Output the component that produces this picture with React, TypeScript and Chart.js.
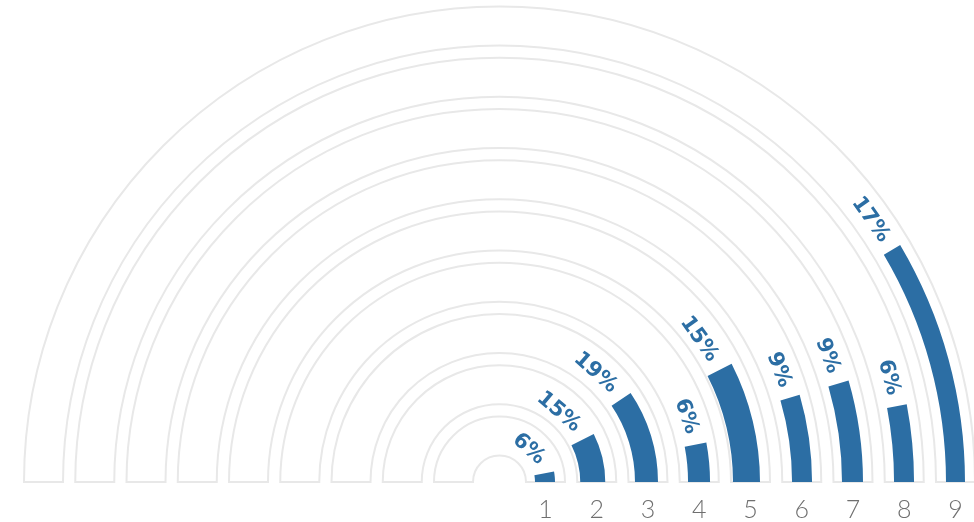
import React, { useEffect, useRef } from "react";
import { Chart, registerables } from "chart.js";

Chart.register(...registerables);

// ---------- data ----------
const categories = ["1", "2", "3", "4", "5", "6", "7", "8", "9"];
const values = [6, 15, 19, 6, 15, 9, 9, 6, 17];
const valueMax = 100;

// ---------- geometry / style (px) ----------
const HOLE = 26.5; // radius of the empty centre
const TRACK_W = 39; // radial width of each grey track
const TRACK_PITCH = 51.25; // distance between track starts
const barInset = [9, 3, 6.5, 8.3, 2, 9.8, 8.5, 9.3, 10];
const barWidth = [20, 25, 23, 22, 27, 20, 21, 20, 19];
const BLUE = "#2c6ea4";
const TRACK_LINE = "#e8e8e8";
const DIGIT_COLOR = "#6f6f6f";
const LABEL_GAP = 12;

const trackInner = (i: number) => HOLE + TRACK_PITCH * i;
const OUTER = trackInner(categories.length - 1) + TRACK_W;

const commonOptions: any = {
  responsive: false,
  animation: false,
  events: [],
  rotation: -90,
  circumference: 180,
  cutout: 0,
  radius: OUTER,
  layout: { padding: { left: 25, right: 0, top: 0, bottom: 33.5 } },
  plugins: { legend: { display: false }, tooltip: { enabled: false } },
};

function buildTrackDatasets() {
  const ds: any[] = [];
  const trackIdx: number[] = [];
  const n = categories.length;
  for (let i = n - 1; i >= 0; i--) {
    if (i < n - 1) {
      const gap = trackInner(i + 1) - (trackInner(i) + TRACK_W);
      ds.push({ data: [1], weight: gap, backgroundColor: "rgba(0,0,0,0)", borderWidth: 0, clip: false });
    }
    trackIdx[i] = ds.length;
    ds.push({
      label: categories[i],
      data: [1],
      weight: TRACK_W,
      backgroundColor: "#ffffff",
      borderColor: TRACK_LINE,
      borderWidth: 2,
      borderJoinStyle: "miter",
      clip: false,
    });
  }
  ds.push({ data: [1], weight: HOLE, backgroundColor: "rgba(0,0,0,0)", borderWidth: 0, clip: false });
  return { ds, trackIdx };
}

function buildBarDatasets() {
  const ds: any[] = [];
  const barIdx: number[] = [];
  const n = categories.length;
  let prev = OUTER;
  for (let i = n - 1; i >= 0; i--) {
    const bo = trackInner(i) + barInset[i] + barWidth[i];
    ds.push({ data: [1], weight: prev - bo, backgroundColor: "rgba(0,0,0,0)", borderWidth: 0, clip: false });
    barIdx[i] = ds.length;
    ds.push({
      label: categories[i],
      data: [valueMax - values[i], values[i]],
      weight: barWidth[i],
      backgroundColor: ["rgba(0,0,0,0)", BLUE],
      borderWidth: 0,
      clip: false,
    });
    prev = bo - barWidth[i];
  }
  ds.push({ data: [1], weight: prev, backgroundColor: "rgba(0,0,0,0)", borderWidth: 0, clip: false });
  return { ds, barIdx };
}

export default function App() {
  const trackRef = useRef<HTMLCanvasElement | null>(null);
  const barRef = useRef<HTMLCanvasElement | null>(null);

  useEffect(() => {
    const { ds: trackDs, trackIdx } = buildTrackDatasets();
    const { ds: barDs, barIdx } = buildBarDatasets();

    const digitPlugin = {
      id: "digits",
      afterDatasetsDraw(chart: any) {
        const ctx = chart.ctx;
        ctx.save();
        ctx.fillStyle = DIGIT_COLOR;
        ctx.font = "300 25px Lato, 'Open Sans', sans-serif";
        ctx.textAlign = "center";
        ctx.textBaseline = "alphabetic";
        categories.forEach((c, i) => {
          const arc: any = chart.getDatasetMeta(trackIdx[i]).data[0];
          const rx = arc.x + (arc.innerRadius + arc.outerRadius) / 2;
          ctx.fillText(c, rx, arc.y + 36);
        });
        ctx.restore();
      },
    };

    const labelPlugin = {
      id: "pctLabels",
      afterDatasetsDraw(chart: any) {
        const ctx = chart.ctx;
        ctx.save();
        ctx.fillStyle = BLUE;
        ctx.font = "bold 21px 'DejaVu Sans', sans-serif";
        ctx.textAlign = "center";
        ctx.textBaseline = "middle";
        values.forEach((v, i) => {
          const arc: any = chart.getDatasetMeta(barIdx[i]).data[1];
          const r = (arc.innerRadius + arc.outerRadius) / 2 - 1.5;
          const text = v + "%";
          const h = ctx.measureText(text).width / 2;
          const a = arc.startAngle - LABEL_GAP / r - Math.atan(h / r);
          ctx.save();
          ctx.translate(arc.x + r * Math.cos(a), arc.y + r * Math.sin(a));
          ctx.rotate(a + Math.PI / 2);
          ctx.fillText(text, 0, 0);
          ctx.restore();
        });
        ctx.restore();
      },
    };

    const trackChart = new Chart(trackRef.current as HTMLCanvasElement, {
      type: "doughnut",
      data: { labels: ["track"], datasets: trackDs },
      options: commonOptions,
      plugins: [digitPlugin],
    } as any);

    const barChart = new Chart(barRef.current as HTMLCanvasElement, {
      type: "doughnut",
      data: { labels: ["rest", "value"], datasets: barDs },
      options: commonOptions,
      plugins: [labelPlugin],
    } as any);

    return () => {
      trackChart.destroy();
      barChart.destroy();
    };
  }, []);

  return (
    <div style={{ position: "fixed", left: 0, top: 0, width: 974, height: 522, background: "#fff" }}>
      <canvas ref={trackRef} width={974} height={522} style={{ position: "absolute", left: 0, top: 0 }} />
      <canvas ref={barRef} width={974} height={522} style={{ position: "absolute", left: 0, top: 0 }} />
    </div>
  );
}
